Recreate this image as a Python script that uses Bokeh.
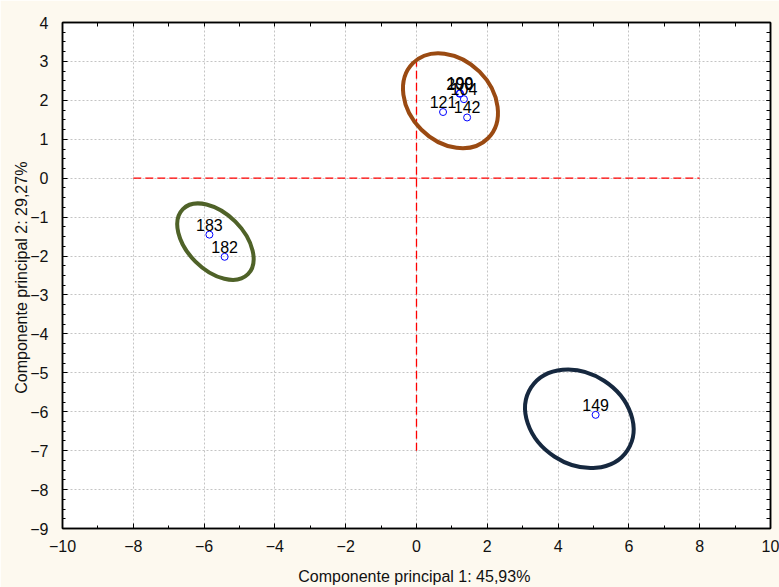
from bokeh.plotting import figure
from bokeh.models import LinearAxis, FixedTicker, Range1d, ColumnDataSource
from bokeh.embed import file_html
from bokeh.resources import INLINE
from bokeh.core.properties import value

# ---- data ----
ids = ["149", "183", "182", "121", "142", "104", "200", "199"]
pc1 = [5.06, -5.85, -5.42, 0.75, 1.43, 1.34, 1.22, 1.23]
pc2 = [-6.08, -1.45, -2.02, 1.70, 1.56, 2.03, 2.17, 2.18]

group_cx = [0.96, -5.68, 4.60]
group_cy = [1.99, -1.63, -6.18]
group_w = [3.0, 2.6, 3.25]
group_h = [2.11, 1.45, 2.33]
group_angle = [-45, -45, -33]
group_color = ["#9A4A12", "#4F6228", "#16283F"]

ref_x0 = [-8, 0]
ref_y0 = [0, -7]
ref_x1 = [8, 0]
ref_y1 = [0, 3]

x_ticks = [-10, -8, -6, -4, -2, 0, 2, 4, 6, 8, 10]
x_minor = [-9, -7, -5, -3, -1, 1, 3, 5, 7, 9]
y_ticks = [-9, -8, -7, -6, -5, -4, -3, -2, -1, 0, 1, 2, 3, 4]
y_minor = [v / 4 for v in range(-36, 17)]

x_title = "Componente principal 1:  45,93%"
y_title = "Componente principal 2:  29,27%"

FONT = "Liberation Sans"
BG = "#FDF9EF"

p = figure(width=779, height=587, output_backend="svg", toolbar_location=None,
           x_range=Range1d(-10, 10), y_range=Range1d(-9, 4),
           min_border_left=62, min_border_right=9, min_border_top=22, min_border_bottom=59)
p.border_fill_color = BG
p.background_fill_color = "white"
p.outline_line_color = "black"
p.outline_line_width = 1.5

xt = FixedTicker(ticks=x_ticks, minor_ticks=x_minor)
yt = FixedTicker(ticks=y_ticks, minor_ticks=y_minor)

for ax, t in ((p.xaxis[0], xt), (p.yaxis[0], yt)):
    ax.ticker = t
    ax.major_tick_in = 5
    ax.major_tick_out = 0
    ax.minor_tick_in = 3
    ax.minor_tick_out = 0
    ax.axis_line_color = "black"
    ax.axis_line_width = 1.5
    ax.major_label_text_font = FONT
    ax.major_label_text_font_size = "16px"
    ax.major_label_text_color = "#111111"
    ax.axis_label_text_font = FONT
    ax.axis_label_text_font_size = "16px"
    ax.axis_label_text_font_style = "normal"
    ax.axis_label_text_color = "#111111"

p.xaxis[0].axis_label = x_title
p.xaxis[0].major_label_standoff = 11
p.xaxis[0].axis_label_standoff = 13
p.yaxis[0].axis_label = y_title
p.yaxis[0].major_label_standoff = 14
p.yaxis[0].axis_label_standoff = -3

# mirrored tick marks on the top and right edges (no labels)
for loc, ticks in (("above", x_ticks + x_minor), ("right", y_ticks + y_minor)):
    a = LinearAxis(ticker=FixedTicker(ticks=[], minor_ticks=ticks),
                   major_tick_in=0, major_tick_out=0, minor_tick_in=4, minor_tick_out=0,
                   axis_line_color="black", axis_line_width=1.5)
    p.add_layout(a, loc)

p.xgrid.ticker = xt
p.ygrid.ticker = yt
for g in (p.xgrid, p.ygrid):
    g.grid_line_color = "#C4C4C4"
    g.grid_line_dash = "2 2"
    g.grid_line_width = 1

src_ref = ColumnDataSource(dict(x0=ref_x0, y0=ref_y0, x1=ref_x1, y1=ref_y1))
p.segment("x0", "y0", "x1", "y1", source=src_ref, line_color="#FF0000", line_width=1.3, line_dash="8 4")

src_g = ColumnDataSource(dict(x=group_cx, y=group_cy, w=group_w, h=group_h, a=group_angle, c=group_color))
p.ellipse("x", "y", width="w", height="h", angle="a", angle_units="deg", source=src_g,
          fill_color=None, line_color="c", line_width=4)

src = ColumnDataSource(dict(x=pc1, y=pc2, t=ids))
p.scatter("x", "y", source=src, marker="circle", size=7, fill_color=None,
          line_color="#0000FF", line_width=1)
p.text("x", "y", text="t", source=src, text_align="center", text_baseline="alphabetic",
       y_offset=-10, text_font=value(FONT), text_font_size="16px", text_color="black")

open("out.html", "w").write(file_html(p, INLINE))
